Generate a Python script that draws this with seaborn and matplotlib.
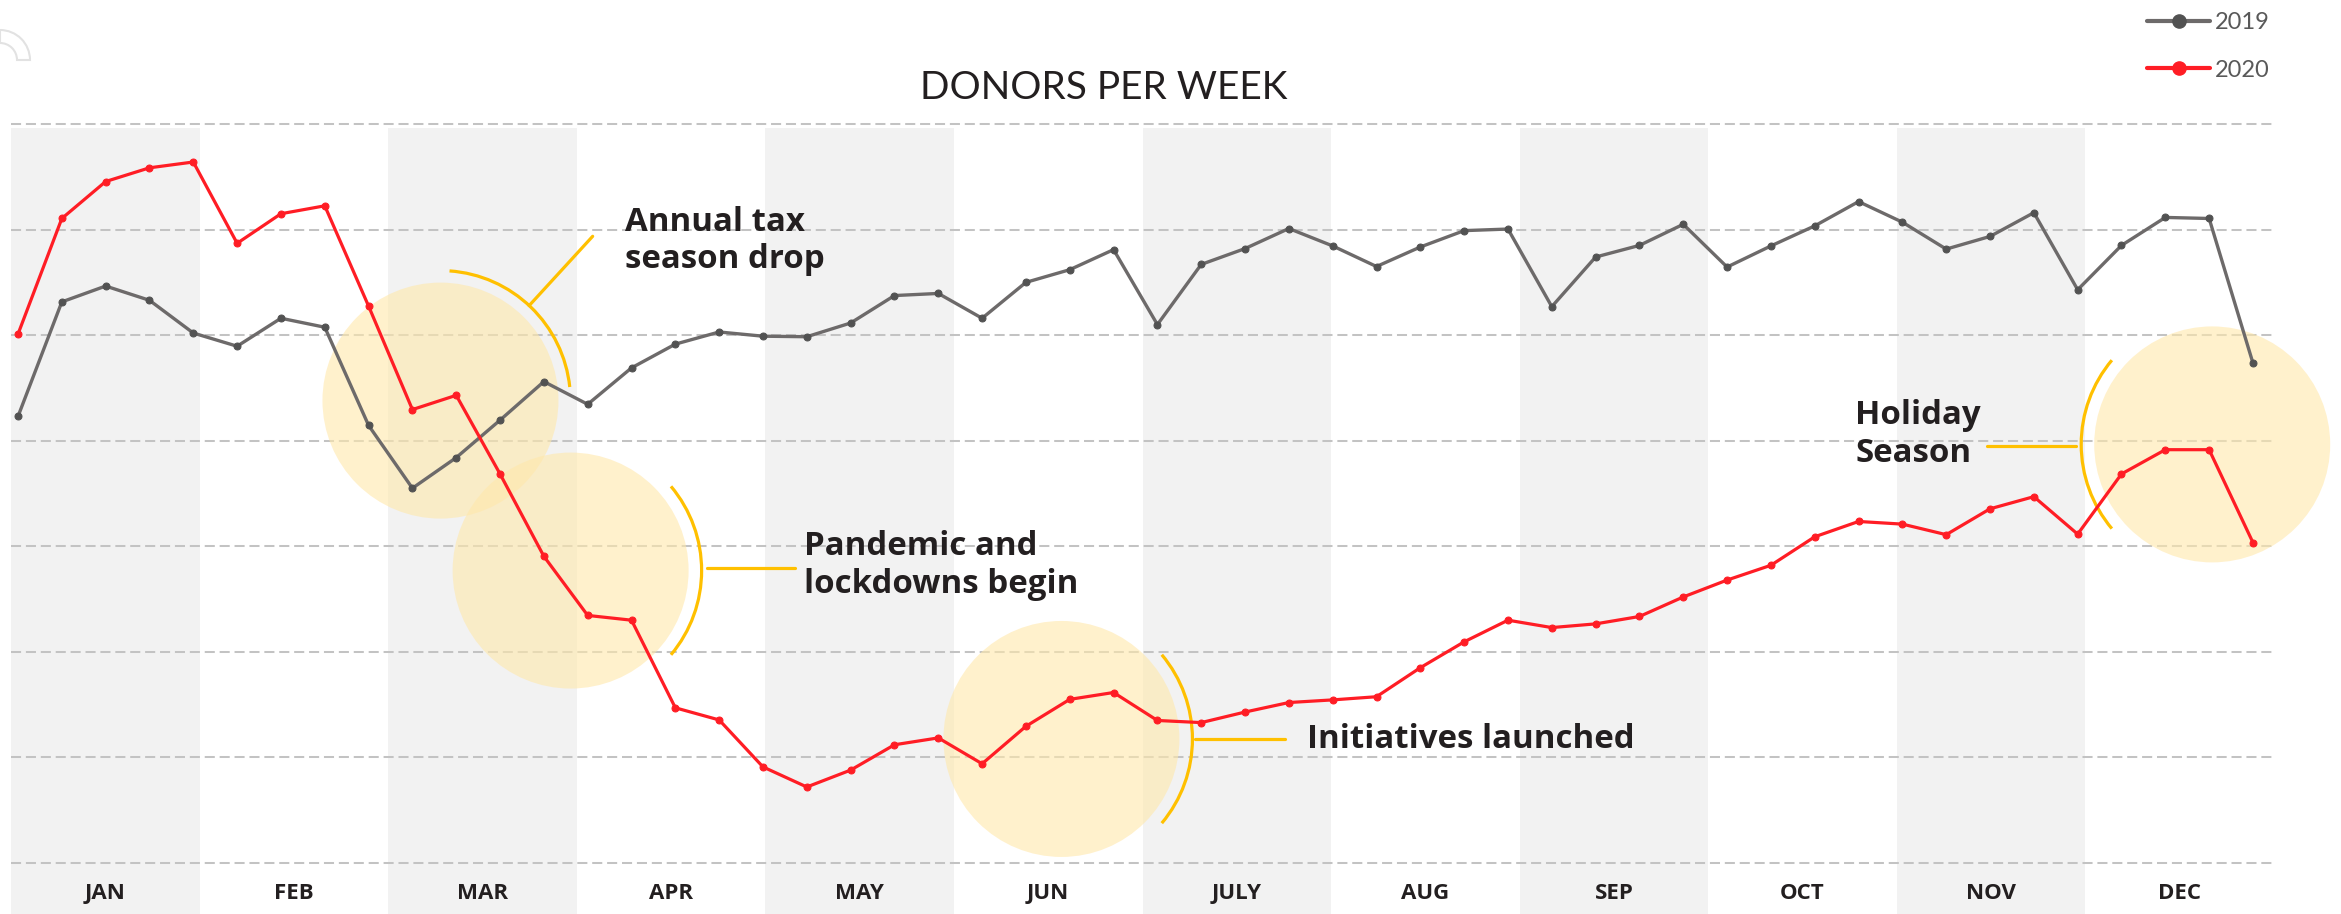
import numpy as np
import pandas as pd
import matplotlib.pyplot as plt
import seaborn as sns
from matplotlib.patches import Circle, Arc, Wedge
from matplotlib.lines import Line2D
from matplotlib.transforms import ScaledTranslation

# weekly donors
weeks = list(range(1, 53))
donors_2019 = [4230, 5315, 5465, 5330, 5020, 4895, 5160, 5075, 4145, 3550,
               3840, 4195, 4560, 4345, 4690, 4915, 5030, 4990, 4985, 5115,
               5375, 5395, 5160, 5500, 5620, 5810, 5100, 5670, 5820, 6010,
               5845, 5650, 5835, 5990, 6005, 5270, 5740, 5850, 6050, 5645,
               5845, 6035, 6265, 6070, 5815, 5935, 6160, 5430, 5850, 6115,
               6105, 4735]
donors_2020 = [5010, 6105, 6455, 6585, 6640, 5870, 6150, 6225, 5275, 4295,
               4430, 3685, 2905, 2345, 2300, 1470, 1355, 910, 720, 880,
               1120, 1185, 940, 1295, 1550, 1615, 1350, 1330, 1430, 1520,
               1545, 1575, 1850, 2095, 2300, 2230, 2265, 2335, 2520, 2680,
               2820, 3090, 3235, 3210, 3110, 3355, 3470, 3115, 3685, 3915,
               3915, 3035]
months = ['JAN', 'FEB', 'MAR', 'APR', 'MAY', 'JUN',
          'JULY', 'AUG', 'SEP', 'OCT', 'NOV', 'DEC']
grid_levels = [0, 1000, 2000, 3000, 4000, 5000, 6000, 7000]

# highlight circles: (week, donors) of the centre
note_weeks = [10.64, 13.61, 24.81, 51.07]
note_donors = [4380, 2770, 1175, 3965]

GRAY = '#6d6a6a'
GRAY_DOT = '#525252'
RED = '#ff1d25'
GOLD = '#ffc000'
INK = '#231f20'

sns.set_style('white')
plt.rcParams['font.family'] = ['Open Sans', 'DejaVu Sans']

W, H = 2341, 914
fig = plt.figure(figsize=(W / 100, H / 100), dpi=100)
ax = fig.add_axes([11 / W, (H - 865) / H, (2274 - 11) / W, (865 - 122) / H])

xmin, xmax = 0.84, 52.48
unit = 1000 / 105.57  # donors per pixel
ymin, ymax = -2 * unit, 7000 + 2 * unit

# month bands
edges = np.linspace(xmin, xmax, 13)
band_bot = -(H - 865) / 743
band_top = (865 - 128) / 743
for i in range(0, 12, 2):
    ax.axvspan(edges[i], edges[i + 1], ymin=band_bot, ymax=band_top,
               color='#f2f2f2', lw=0, zorder=0, clip_on=False)

df = pd.DataFrame({'week': weeks * 2,
                   'donors': donors_2019 + donors_2020,
                   'year': ['2019'] * 52 + ['2020'] * 52})

sns.lineplot(data=df[df.year == '2019'], x='week', y='donors', color=GRAY,
             lw=2.4, marker='o', ms=5, mfc=GRAY_DOT, mec=GRAY_DOT, ax=ax, zorder=4)
sns.lineplot(data=df[df.year == '2020'], x='week', y='donors', color=RED,
             lw=2.3, marker='o', ms=5, mec=RED, ax=ax, zorder=5)


def at(wk, val):
    return fig.dpi_scale_trans + ScaledTranslation(wk, val, ax.transData)


# (arc theta1, theta2, arc radius, leader start, leader end, text x, baselines, lines)
notes = [
    (6, 86, 1.30, (0.887, 0.95), (1.522, 1.643), 1.845, [1.696, 1.326],
     ['Annual tax', 'season drop']),
    (-40, 40, 1.31, (1.36, 0.025), (2.243, 0.025), 2.336, [0.158, -0.222],
     ['Pandemic and', 'lockdowns begin']),
    (-40, 40, 1.31, (1.337, 0.0), (2.237, 0.0), 2.454, [-0.09],
     ['Initiatives launched']),
    (140, 220, 1.31, (-1.365, -0.015), (-2.249, -0.015), -3.572, [0.202, -0.176],
     ['Holiday', 'Season']),
]
for (wk, val), (t1, t2, r, p0, p1, tx, bases, lines) in zip(zip(note_weeks, note_donors), notes):
    tr = at(wk, val)
    ax.add_patch(Circle((0, 0), 1.18, transform=tr, fc='#ffe8ab', ec='none',
                        alpha=0.6, zorder=1, clip_on=False))
    ax.add_patch(Arc((0, 0), 2 * r, 2 * r, theta1=t1, theta2=t2, transform=tr,
                     color=GOLD, lw=2.3, zorder=2, clip_on=False))
    ax.add_line(Line2D([p0[0], p1[0]], [p0[1], p1[1]], transform=tr,
                       color=GOLD, lw=2.3, zorder=2, clip_on=False))
    for b, s in zip(bases, lines):
        ax.text(tx, b, s, transform=tr, fontsize=23.8, fontweight='bold',
                color=INK, va='baseline', ha='left', zorder=6)

ax.set_xlim(xmin, xmax)
ax.set_ylim(ymin, ymax)
ax.set_yticks(grid_levels)
ax.set_yticklabels([])
ax.yaxis.grid(True, color='#c3c3c3', linestyle=(0, (5, 2.4)), linewidth=1.45)
ax.xaxis.grid(False)
centers = (edges[:-1] + edges[1:]) / 2
ax.set_xticks(centers, months)
ax.tick_params(axis='x', length=0, pad=13, labelsize=16, labelcolor=INK)
ax.tick_params(axis='y', length=0)
for lab in ax.get_xticklabels():
    lab.set_fontweight('bold')
ax.set_xlabel('')
ax.set_ylabel('')
sns.despine(ax=ax, left=True, bottom=True)

fig.text(1103.6 / W, 1 - 99 / H, 'DONORS PER WEEK', ha='center', va='baseline',
         fontsize=28, family=['Lato', 'DejaVu Sans'], fontweight='normal', color=INK)

handles = [Line2D([], [], color=GRAY, lw=3, marker='o', ms=9.5, mfc=GRAY_DOT, mec=GRAY_DOT),
           Line2D([], [], color=RED, lw=3, marker='o', ms=9.5, mfc=RED, mec=RED)]
fig.legend(handles, ['2019', '2020'], loc='upper left', bbox_to_anchor=(2147 / W, 1 - 12 / H),
           frameon=False, borderpad=0, borderaxespad=0, handlelength=2.67,
           handletextpad=0.21, labelspacing=1.13, labelcolor='#595959',
           prop={'family': ['Lato', 'DejaVu Sans'], 'size': 17})

# faint cropped icon in the top-left corner
fig.add_artist(Wedge((0, (H - 60) / 100), 0.3, 0, 90, width=0.13,
                     transform=fig.dpi_scale_trans, fc='white', ec='#e2e2e2', lw=1.5))

fig.savefig('out.png', dpi=100)
